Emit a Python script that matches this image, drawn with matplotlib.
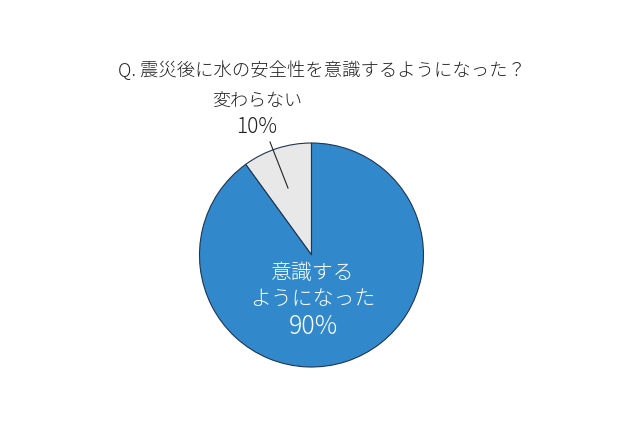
import matplotlib
matplotlib.use("Agg")
import matplotlib.pyplot as plt

plt.rcParams['font.family'] = ['Noto Sans CJK JP', 'DejaVu Sans']

title = "Q. 震災後に水の安全性を意識するようになった？"
labels = ["変わらない", "意識する\nようになった"]
values = [10, 90]
colors = ["#E8E8E8", "#3189CC"]

fig = plt.figure(figsize=(6.4, 4.26), dpi=100)
ax = fig.add_axes([0, 0, 1, 1])

cx, cy, r = 311.5, 426 - 255, 112
ax.pie(values, colors=colors, startangle=90, counterclock=True,
       center=(cx, cy), radius=r, frame=True,
       wedgeprops=dict(edgecolor="#1F3550", linewidth=0.8))
ax.set_xlim(0, 640)
ax.set_ylim(0, 426)
ax.set_aspect('equal')
ax.axis('off')

ax.text(322, 426 - 70, title, ha='center', va='center', fontsize=13.2,
        color='#222222', fontweight='light')

# small slice label outside with leader line
ax.text(257, 426 - 102, labels[0], ha='center', va='center', fontsize=13,
        color='#222222', fontweight='light')
ax.text(257, 426 - 127, f"{values[0]}%", ha='center', va='center', fontsize=15,
        color='#222222', fontweight='light')
ax.plot([270, 288], [426 - 142, 426 - 188], color='#222222', lw=0.8)

# big slice label inside
ax.text(313, 426 - 286, labels[1], ha='center', va='center', fontsize=15,
        color='white', linespacing=1.2, fontweight='light')
ax.text(313, 426 - 327, f"{values[1]}%", ha='center', va='center', fontsize=18,
        color='white', fontweight='light')

fig.savefig("out.png", dpi=100)
